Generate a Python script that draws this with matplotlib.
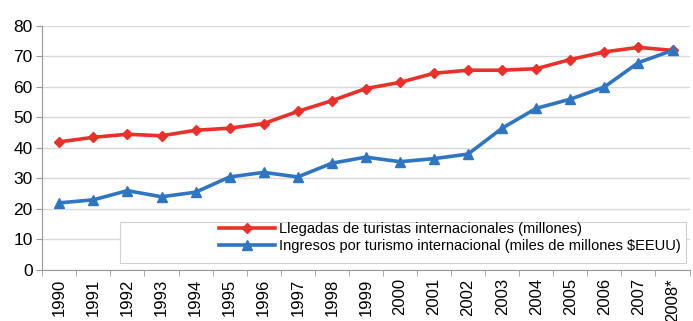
import matplotlib.pyplot as plt
from matplotlib.patches import Rectangle
import numpy as np

plt.rcParams['font.family'] = ['Liberation Sans Narrow', 'Liberation Sans', 'DejaVu Sans']

years = ["1990", "1991", "1992", "1993", "1994", "1995", "1996", "1997", "1998", "1999",
         "2000", "2001", "2002", "2003", "2004", "2005", "2006", "2007", "2008*"]
llegadas = [42, 43.5, 44.5, 44, 45.8, 46.5, 48, 52, 55.5, 59.5,
            61.5, 64.5, 65.5, 65.5, 66, 69, 71.5, 73, 72]
ingresos = [22, 23, 26, 24, 25.5, 30.5, 32, 30.5, 35, 37,
            35.5, 36.5, 38, 46.5, 53, 56, 60, 68, 72]

red = "#e8312a"
blue = "#2f75c0"

fig = plt.figure(figsize=(6.93, 3.21), dpi=100)
ax = fig.add_axes([0.061, 0.159, 0.934, 0.76])

x = np.arange(len(years))
ax.plot(x, llegadas, color=red, lw=2.6, marker="D", ms=5.5,
        label="Llegadas de turistas internacionales (millones)")
ax.plot(x, ingresos, color=blue, lw=2.6, marker="^", ms=6.5,
        label="Ingresos por turismo internacional (miles de millones $EEUU)")

ax.set_ylim(0, 80)
ax.set_yticks(range(0, 81, 10))
ax.set_xlim(-0.5, len(years) - 0.5)
ax.set_xticks(x)
ax.set_xticklabels(years, rotation=90)
ax.set_xticks(np.arange(-0.5, len(years), 1), minor=True)
ax.tick_params(axis="x", which="major", length=0, pad=6, labelsize=12)
ax.tick_params(axis="x", which="minor", length=4, color="#999999")
ax.tick_params(axis="y", length=4, color="#999999", labelsize=12.5, pad=3)

ax.grid(axis="y", color="#d9d9d9", lw=1)
ax.set_axisbelow(True)
for s in ["top", "right"]:
    ax.spines[s].set_visible(False)
for s in ["left", "bottom"]:
    ax.spines[s].set_color("#999999")

ax.add_patch(Rectangle((0.12, 0.03), 0.875, 0.165, transform=ax.transAxes,
                       facecolor="white", edgecolor="#d0d0d0", lw=0.8, zorder=3))
leg = ax.legend(loc="lower right", bbox_to_anchor=(1.0, 0.035), frameon=False,
                fontsize=10.5, handlelength=3.8, handletextpad=0.3,
                labelspacing=0.15, borderaxespad=0.2)
leg.set_zorder(4)

fig.savefig("out.png")
